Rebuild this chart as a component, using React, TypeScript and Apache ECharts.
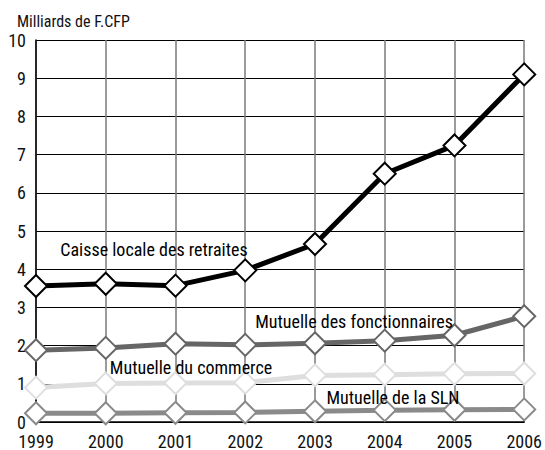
import React, { useEffect, useRef } from "react";
import * as echarts from "echarts";

const years = ["1999", "2000", "2001", "2002", "2003", "2004", "2005", "2006"];
const caisse = [3.56, 3.62, 3.57, 3.97, 4.66, 6.5, 7.24, 9.1];
const fonctionnaires = [1.88, 1.94, 2.05, 2.02, 2.06, 2.13, 2.27, 2.77];
const commerce = [0.9, 1.01, 1.02, 1.03, 1.22, 1.24, 1.26, 1.27];
const sln = [0.23, 0.23, 0.24, 0.25, 0.28, 0.31, 0.32, 0.33];
const yTitle = "Milliards de F.CFP";
const seriesNames = [
  "Caisse locale des retraites",
  "Mutuelle des fonctionnaires",
  "Mutuelle du commerce",
  "Mutuelle de la SLN",
];

const FONT = "'Roboto Condensed', 'Liberation Sans Narrow', 'DejaVu Sans Condensed', sans-serif";

export default function App() {
  const ref = useRef<HTMLDivElement>(null);
  useEffect(() => {
    if (!ref.current) return;
    const chart = echarts.init(ref.current, null, { renderer: "svg" });
    const mk = (name: string, data: number[], color: string, z: number) => ({
      name,
      type: "line",
      data,
      z,
      symbol: "diamond",
      symbolSize: 22,
      lineStyle: { color, width: 5 },
      itemStyle: { color: "#ffffff", borderColor: color, borderWidth: 2 },
    });
    const lbl = (text: string, x: number, y: number) => ({
      type: "text",
      x,
      y,
      z: 100,
      style: { text, font: `18px ${FONT}`, fill: "#000", align: "center", verticalAlign: "middle" },
    });
    chart.setOption({
      animation: false,
      textStyle: { fontFamily: FONT },
      grid: { left: 36, right: 12, top: 40, bottom: 26, containLabel: false },
      xAxis: {
        type: "category",
        data: years,
        boundaryGap: false,
        axisLine: { lineStyle: { color: "#000", width: 1.5 } },
        axisTick: { show: false },
        axisLabel: { fontFamily: FONT, fontSize: 18, color: "#111", margin: 10 },
        splitLine: { show: true, lineStyle: { color: "#7a7a7a", width: 1.5 } },
      },
      yAxis: {
        type: "value",
        min: 0,
        max: 10,
        interval: 1,
        axisLine: { show: true, lineStyle: { color: "#000", width: 1.5 } },
        axisTick: { show: false },
        axisLabel: { fontFamily: FONT, fontSize: 18, color: "#111", margin: 10, lineHeight: 18 },
        splitLine: { show: true, lineStyle: { color: "#000", width: 1 } },
      },
      graphic: [
        { type: "text", left: 17, top: 13, style: { text: yTitle, font: `16px ${FONT}`, fill: "#111" } },
        lbl(seriesNames[0], 154, 249),
        lbl(seriesNames[1], 354, 321),
        lbl(seriesNames[2], 191, 367),
        lbl(seriesNames[3], 393, 397),
      ],
      series: [
        mk(seriesNames[3], sln, "#8a8a8a", 2),
        mk(seriesNames[2], commerce, "#dedede", 3),
        mk(seriesNames[1], fonctionnaires, "#666666", 4),
        mk(seriesNames[0], caisse, "#000000", 5),
      ],
    });
    return () => chart.dispose();
  }, []);
  return <div ref={ref} style={{ width: 545, height: 450, position: "absolute", left: 0, top: 0 }} />;
}
